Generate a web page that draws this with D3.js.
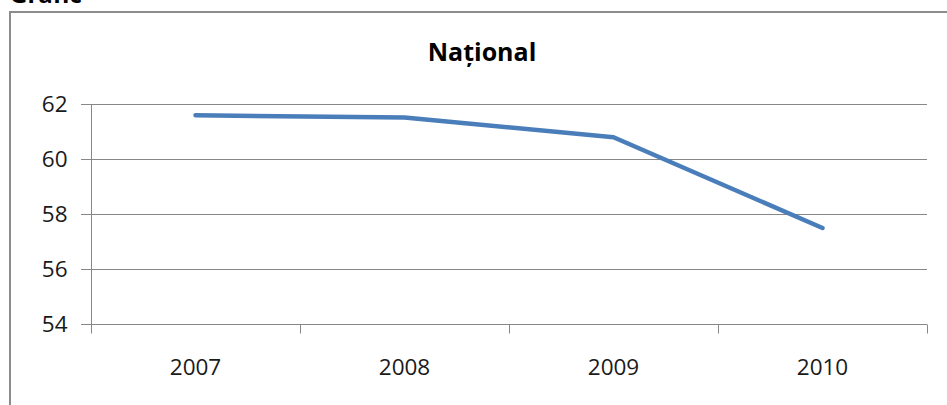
<!DOCTYPE html>
<html>
<head>
<meta charset="utf-8">
<script src="https://cdn.jsdelivr.net/npm/d3@7"></script>
<style>
  html, body { margin: 0; padding: 0; background: #fff; }
  svg { display: block; }
</style>
</head>
<body>
<svg id="chart" width="947" height="405"></svg>
<script>
const categories = ["2007", "2008", "2009", "2010"];
const values = [61.59, 61.51, 60.79, 57.49];
const yTicks = [54, 56, 58, 60, 62];
const title = "Național";
const heading = "Grafic";

const svg = d3.select("#chart");
const plot = { left: 91, right: 927, top: 104, bottom: 324 };
const font = "'Open Sans', 'Liberation Sans', sans-serif";
const gridColor = "#878787";

// Heading text (cut off at top, as in the reference)
svg.append("text")
  .attr("x", 10).attr("y", 3)
  .attr("font-family", font).attr("font-weight", "bold")
  .attr("font-size", 24).attr("fill", "#000")
  .text(heading);

// Chart frame
svg.append("rect")
  .attr("x", 10).attr("y", 12)
  .attr("width", 960).attr("height", 420)
  .attr("fill", "#fff").attr("stroke", "#8c8c8c").attr("stroke-width", 2);

const x = d3.scaleBand().domain(categories).range([plot.left, plot.right]).paddingInner(0).paddingOuter(0);
const y = d3.scaleLinear().domain([54, 62]).range([plot.bottom, plot.top]);

// Gridlines
svg.append("g").selectAll("line").data(yTicks.filter(t => t !== 54)).join("line")
  .attr("x1", plot.left - 10).attr("x2", plot.right)
  .attr("y1", d => Math.round(y(d)) + 0.5).attr("y2", d => Math.round(y(d)) + 0.5)
  .attr("stroke", gridColor).attr("stroke-width", 1);

// Y axis
const yAxis = svg.append("g")
  .attr("transform", `translate(${plot.left + 0.5},0)`)
  .call(d3.axisLeft(y).tickValues(yTicks).tickSize(10).tickPadding(14).tickFormat(d3.format("d")));
yAxis.select(".domain").attr("stroke", gridColor).attr("d", `M0,${plot.top}V${plot.bottom + 9}`);
yAxis.selectAll(".tick line").attr("stroke", gridColor);
yAxis.selectAll(".tick text").attr("font-family", font).attr("font-size", 22.5).attr("fill", "#1a1a1a");

// X axis
const xTickPositions = categories.map(c => x(c)).concat([plot.right]);
const xAxis = svg.append("g").attr("transform", `translate(0,${Math.round(plot.bottom) + 0.5})`);
xAxis.append("line").attr("x1", plot.left - 10).attr("x2", plot.right)
  .attr("stroke", gridColor);
xAxis.selectAll("line.tk").data(xTickPositions).join("line").attr("class", "tk")
  .attr("x1", d => Math.round(d) + 0.5).attr("x2", d => Math.round(d) + 0.5)
  .attr("y1", 0).attr("y2", 9).attr("stroke", gridColor);
xAxis.selectAll("text").data(categories).join("text")
  .attr("x", d => x(d) + x.bandwidth() / 2)
  .attr("y", 50)
  .attr("text-anchor", "middle")
  .attr("font-family", font).attr("font-size", 22.5).attr("fill", "#1a1a1a")
  .text(d => d);

// Line
const line = d3.line().x((d, i) => x(categories[i]) + x.bandwidth() / 2).y(d => y(d));
svg.append("path").datum(values)
  .attr("d", line)
  .attr("fill", "none").attr("stroke", "#4a7ebb").attr("stroke-width", 4.5)
  .attr("stroke-linecap", "round").attr("stroke-linejoin", "round");

// Title
svg.append("text")
  .attr("x", 482).attr("y", 61)
  .attr("text-anchor", "middle")
  .attr("font-family", font).attr("font-weight", "bold")
  .attr("font-size", 25).attr("fill", "#000")
  .text(title);
</script>
</body>
</html>
